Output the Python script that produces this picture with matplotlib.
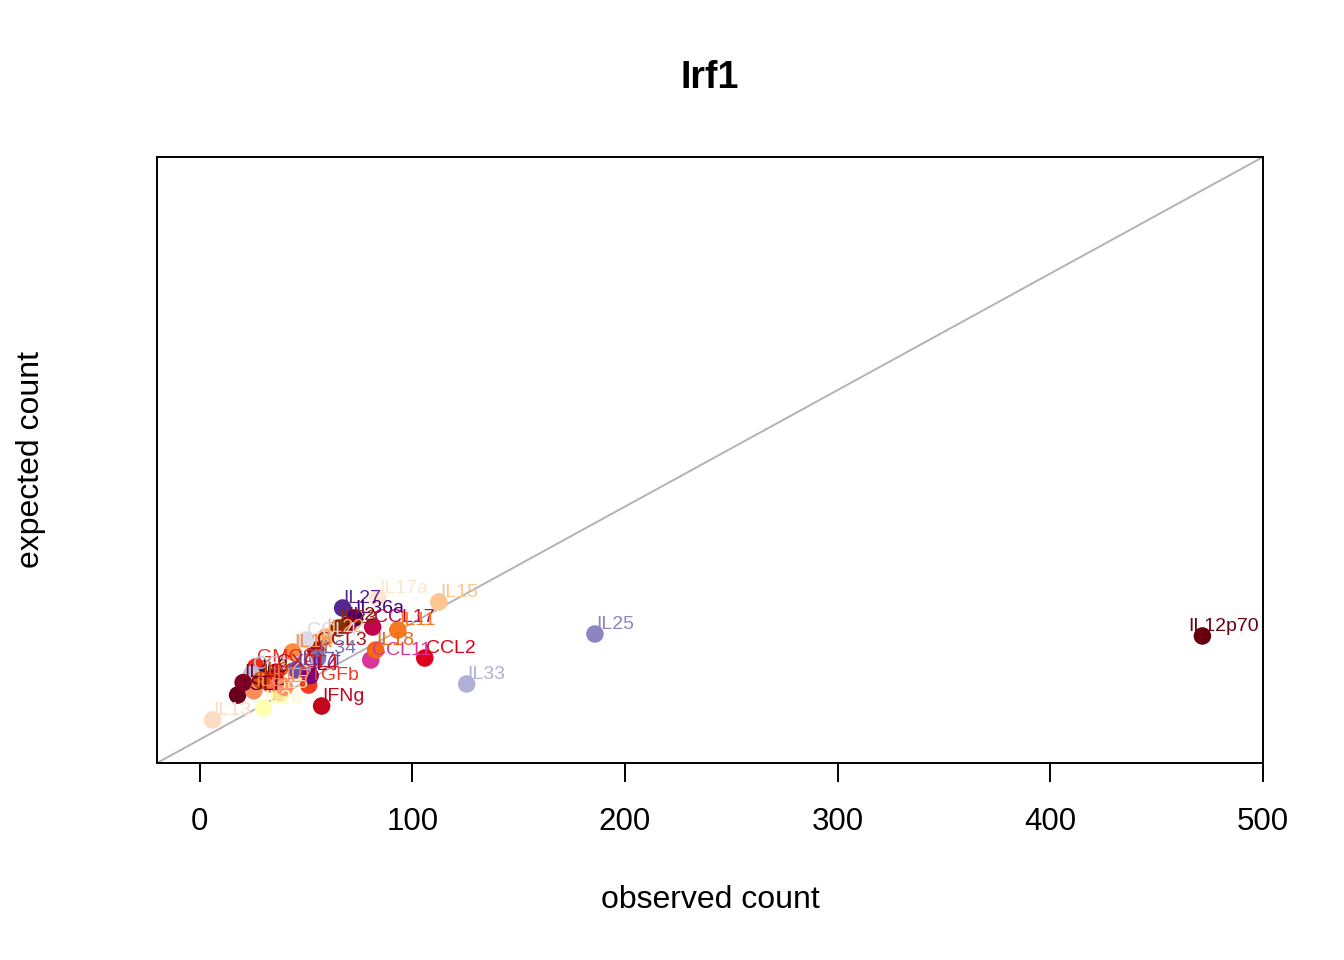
import matplotlib
matplotlib.use("Agg")
import matplotlib.pyplot as plt

plt.rcParams["font.family"] = ["Liberation Sans", "DejaVu Sans"]

# cytokine names, observed / expected counts and colours
names = ["IL12p70", "IL25", "IL33", "CCL2", "IL15", "IL17a", "IL27", "IL36a",
         "IL2", "CCL17", "IL11", "IL23", "IL22", "CCL11", "IL18", "CCL3",
         "CCL4", "IL34", "IL1a", "GMCSF", "IL3", "TSLP", "IL13", "IL26",
         "IL5", "IFNg", "TGFb", "CCL20", "IL6", "IL17f", "IL4", "IL1b",
         "IL10", "IL9", "IL7", "CXCL1"]
observed = [471.5, 185.9, 125.6, 105.9, 112.5, 83.8, 67.3, 72.9,
            69.6, 81.4, 93.2, 65.4, 59.3, 80.5, 82.8, 54.6,
            49.9, 55.5, 43.8, 26.4, 28.7, 17.9, 6.1, 30.1,
            38.1, 57.4, 51.3, 24.5, 25.5, 45.5, 52.0, 20.5,
            33.0, 29.0, 40.0, 36.0]
expected = [89.0, 90.7, 47.8, 70.1, 118.2, 121.6, 113.0, 104.4,
            98.4, 96.7, 94.1, 95.8, 88.1, 68.4, 77.0, 77.0,
            85.5, 70.1, 75.2, 62.4, 53.8, 38.3, 16.9, 27.2,
            40.1, 28.9, 46.9, 56.0, 42.0, 60.0, 55.0, 49.0,
            48.0, 51.0, 45.0, 58.0]
colors = ["#67000d", "#8c86c0", "#b0b0d6", "#e0001c", "#fdc68f", "#fee6ce", "#54278f", "#3f007d",
          "#99000d", "#c2044f", "#f47920", "#8c2d04", "#fdae6b", "#dd3497", "#f16913", "#a50f15",
          "#dadaeb", "#7b78b8", "#fd8d3c", "#ef2b1c", "#4a1020", "#67001f", "#fddcc4", "#ffffb2",
          "#fee391", "#c4061d", "#f03b20", "#bcbddc", "#fc8d59", "#6a51a3", "#7a0177", "#800026",
          "#fb6a4a", "#d94801", "#fc9272", "#cb181d"]

fig = plt.figure(figsize=(13.44, 9.6), dpi=100)
ax = fig.add_axes([157/1344, 197/960, 1106/1344, 606/960])
ax.set_xlim(-20, 500)
ax.set_ylim(-20, 500)
lims = ax.get_xlim()
ax.plot(lims, lims, color="#b3b3b3", lw=1.4, zorder=1)

ax.scatter(observed, expected, s=160, c=colors, zorder=2, linewidths=0)
for n, xo, ye, c in zip(names, observed, expected, colors):
    if xo > 450:
        ax.text(xo - 6.5, ye + 1, n, color=c, fontsize=14, ha="left", va="bottom", zorder=3)
    else:
        ax.text(xo + 0.5, ye + 1, n, color=c, fontsize=14, ha="left", va="bottom", zorder=3)

ax.set_yticks([])
ax.set_xticks([0, 100, 200, 300, 400, 500])
ax.tick_params(axis="x", direction="out", length=14, width=1.4, labelsize=22.5, pad=18)
for sp in ax.spines.values():
    sp.set_linewidth(1.4)
ax.set_xlabel("observed count", fontsize=23, labelpad=34)
ax.set_ylabel("expected count", fontsize=23, labelpad=80)
ax.set_title("Irf1", fontsize=27, fontweight="bold", pad=50)

fig.savefig("out.png", dpi=100)
